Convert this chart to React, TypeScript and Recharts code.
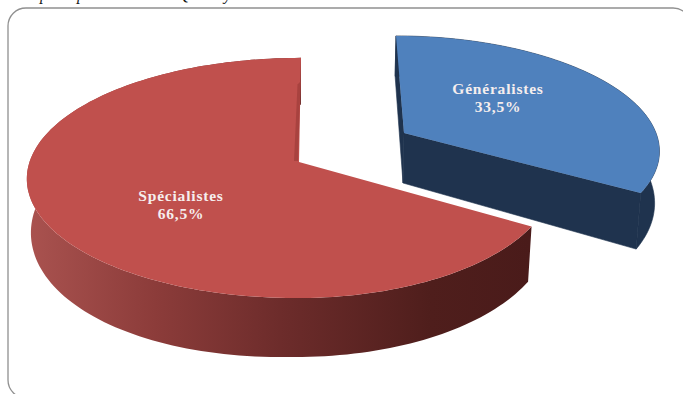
import React from 'react';
import { PieChart, Pie } from 'recharts';

const categories = ['Généralistes', 'Spécialistes'];
const shares = [33.5, 66.5];
const topColors = ['#4f81bd', '#c0504d'];
const captionGlyphs = 'ppQy';

const rows = categories.map((name, i) => ({ name, value: shares[i] }));

type Disc = {
  vx: number; vy: number; left: number; right: number; b: number; skew: number;
  wallSx: number; wallSy: number; wallDx: number; wallDy: number; bulge: number;
  labelX: number; labelY: number; wall: string;
};
const K = 0.133;
const discs: Disc[] = [
  { vx: 404, vy: 133, left: 254, right: 252, b: 110, skew: -8, wallSx: 0.985, wallSy: 1.1, wallDx: -1, wallDy: 50, bulge: 0, labelX: 94, labelY: -39, wall: '#1f334e' },
  { vx: 299, vy: 162, left: 269.5, right: 253, b: 118, skew: 2, wallSx: 0.985, wallSy: 1.05, wallDx: 0, wallDy: 52, bulge: 4, labelX: -118, labelY: 39, wall: 'url(#redWall)' },
];

const project = (d: Disc, deg: number, r = 1, low = false) => {
  const t = (deg * Math.PI) / 180;
  const u = Math.sin(t) * r;
  const v = Math.cos(t) * r;
  const w = 1 + K * v;
  let x = ((u < 0 ? d.left : d.right) * u) / w + d.skew * v;
  let y = (-d.b * v) / w;
  if (low) {
    x = x * d.wallSx + d.wallDx;
    y = y * d.wallSy + d.wallDy + (u < 0 && v < 0 ? d.bulge * 2 * u * v : 0);
  }
  return [d.vx + x, d.vy + y];
};

const pt = (p: number[]) => `${p[0].toFixed(2)} ${p[1].toFixed(2)}`;

const Slice = (props: any) => {
  const i = categories.indexOf(props.name);
  const d = discs[i];
  const from = 90 - props.startAngle;
  const to = 90 - props.endAngle;
  const steps = Math.ceil((to - from) / 1.5);
  const angles = Array.from({ length: steps + 1 }, (_, k) => from + ((to - from) * k) / steps);
  const top = `M${pt(project(d, from, 0))} ` + angles.map((a) => `L${pt(project(d, a))}`).join(' ') + ' Z';
  const low = (a: number) => project(d, a, 1, true);
  const wall =
    `M${angles.map((a) => pt(project(d, a))).join(' L')} L` +
    [...angles].reverse().map((a) => pt(low(a))).join(' L') +
    ' Z';
  const hub = project(d, from, 0);
  const hubLow = project(d, from, 0, true);
  const startFace = `M${pt(project(d, from))} L${pt(hub)} L${pt(hubLow)} L${pt(low(from))} Z`;
  const endFace = `M${pt(project(d, to))} L${pt(hub)} L${pt(hubLow)} L${pt(low(to))} Z`;
  const sliver =
    i === 1
      ? `M${pt(project(d, to, 0.75))} L${pt(project(d, to, 0.75).map((c, j) => (j === 0 ? c - 3 : c + 3)))} L${pt(project(d, to, 0).map((c, j) => (j === 0 ? c - 5 : c - 1)))} L${pt(project(d, to, 0).map((c, j) => (j === 0 ? c - 1 : c - 1)))} Z`
      : null;
  return (
    <g>
      <path d={wall} fill={d.wall} stroke={i === 0 ? d.wall : 'none'} strokeWidth={0.6} />
      {i === 0 && <path d={startFace} fill={d.wall} stroke={d.wall} strokeWidth={0.6} />}
      {i === 0 && <path d={endFace} fill={d.wall} stroke={d.wall} strokeWidth={0.6} />}
      <path d={top} fill={topColors[i]} />
      {sliver && <path d={sliver} fill="#a8423f" />}
    </g>
  );
};

const SliceLabel = (props: any) => {
  const i = categories.indexOf(props.name);
  const d = discs[i];
  const x = d.vx + d.labelX;
  const y = d.vy + d.labelY;
  const pct = `${shares[i].toFixed(1).replace('.', ',')}%`;
  return (
    <text
      x={x}
      y={y}
      textAnchor="middle"
      fill="#f6eeee"
      fontFamily="'Liberation Serif', serif"
      fontWeight="bold"
      fontSize={15.5}
      letterSpacing={0.8}
    >
      <tspan x={x} dy={0}>{categories[i]}</tspan>
      <tspan x={x} dy={18}>{pct}</tspan>
    </text>
  );
};

export default function App() {
  return (
    <div style={{ position: 'absolute', left: 0, top: 0, width: 683, height: 394, overflow: 'hidden' }}>
      <PieChart width={683} height={394} margin={{ top: 0, right: 0, bottom: 0, left: 0 }}>
        <defs>
          <linearGradient id="redWall" gradientUnits="userSpaceOnUse" x1="30" y1="0" x2="530" y2="0">
            <stop offset="0" stopColor="#a9524f" />
            <stop offset="0.25" stopColor="#8c3c3a" />
            <stop offset="0.5" stopColor="#6d2c2b" />
            <stop offset="0.8" stopColor="#4f1e1c" />
            <stop offset="1" stopColor="#4a1b1a" />
          </linearGradient>
        </defs>
        <rect x={8} y={8} width={683} height={390} rx={18} ry={18} fill="#ffffff" stroke="#909090" strokeWidth={1.3} />
        <text x={[40, 77, 178, 224].join(' ')} y={-0.5} fontFamily="'Liberation Serif', serif" fontStyle="italic" fontSize={16} fill="#111111">
          {captionGlyphs}
        </text>
        <Pie
          data={rows}
          dataKey="value"
          nameKey="name"
          cx={300}
          cy={170}
          outerRadius={120}
          startAngle={90}
          endAngle={-270}
          stroke="none"
          isAnimationActive={false}
          shape={Slice}
          label={SliceLabel}
          labelLine={false}
        />
      </PieChart>
    </div>
  );
}
